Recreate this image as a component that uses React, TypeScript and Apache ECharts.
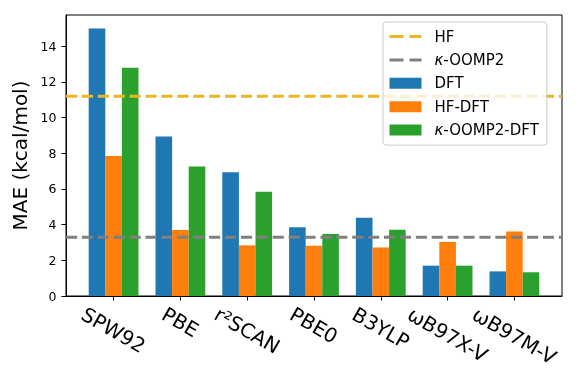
import React, { useEffect, useRef } from "react";
import * as echarts from "echarts";

const categories = ["SPW92", "PBE", "r²SCAN", "PBE0", "B3YLP", "ωB97X-V", "ωB97M-V"];
const dftValues = [15.0, 8.94, 6.93, 3.86, 4.38, 1.7, 1.38];
const hfDftValues = [7.84, 3.7, 2.84, 2.82, 2.72, 3.02, 3.62];
const oompDftValues = [12.8, 7.26, 5.84, 3.47, 3.71, 1.7, 1.33];
const hfReference = 11.2;
const oompReference = 3.29;
const yTickValues = [0, 2, 4, 6, 8, 10, 12, 14];
const yMax = 15.75;
const xMin = -0.7125;
const xMax = 6.7125;

const FONT = "DejaVu Sans";
const DASH_ICON = "path://M0,0 H14 V3 H0 Z M20,0 H32 V3 H20 Z";

function measure(text: string, size: number): number {
  const c = document.createElement("canvas");
  const ctx = c.getContext("2d");
  if (!ctx) return text.length * size * 0.6;
  ctx.font = `${size}px "${FONT}"`;
  return ctx.measureText(text).width;
}

export default function App() {
  const ref = useRef<HTMLDivElement>(null);
  useEffect(() => {
    if (!ref.current) return;
    const chart = echarts.init(ref.current, undefined, { renderer: "svg" });

    const labelFont = 20;
    const rich: Record<string, any> = {};
    categories.forEach((c, i) => {
      const w = measure(c, labelFont);
      const delta = w / 4;
      const d = 0.866 * delta;
      const s = 0.5 * delta;
      rich["l" + i] = {
        fontSize: labelFont,
        fontFamily: FONT,
        color: "#000",
        padding: [2 * d, 0, 0, 2 * s],
      };
    });

    const barSeries = (name: string, values: number[], color: string) => ({
      name,
      type: "bar",
      data: values.map((v, i) => [i, v]),
      barWidth: 16.6,
      barGap: "0%",
      itemStyle: { color },
      z: 2,
    });

    const lineSeries = (name: string, value: number, color: string) => ({
      name,
      type: "line",
      data: [
        [xMin, value],
        [xMax, value],
      ],
      symbol: "none",
      showSymbol: false,
      lineStyle: { color, width: 3, type: [11.1, 4.8] },
      itemStyle: { color },
      z: 3,
    });

    chart.setOption({
      animation: false,
      textStyle: { fontFamily: FONT },
      grid: {
        left: 66,
        right: 19,
        top: 15,
        bottom: 92,
        show: true,
        borderColor: "#000",
        borderWidth: 1,
        backgroundColor: "transparent",
      },
      xAxis: {
        type: "value",
        min: xMin,
        max: xMax,
        splitLine: { show: false },
        axisLine: { show: true, onZero: false, lineStyle: { color: "#000", width: 1 } },
        axisTick: {
          show: true,
          customValues: categories.map((_, i) => i),
          length: 4.5,
          lineStyle: { color: "#000", width: 1 },
        },
        axisLabel: {
          customValues: categories.map((_, i) => i),
          formatter: (v: number) => {
            const i = Math.round(v);
            return `{l${i}|${categories[i]}}`;
          },
          rotate: -30,
          align: "center",
          verticalAlign: "middle",
          margin: 16.5,
          hideOverlap: false,
          fontSize: labelFont,
          fontFamily: FONT,
          color: "#000",
          rich,
        },
      },
      yAxis: {
        type: "value",
        min: 0,
        max: yMax,
        name: "MAE (kcal/mol)",
        nameLocation: "middle",
        nameGap: 31,
        nameTextStyle: { fontSize: 20, fontFamily: FONT, color: "#000" },
        splitLine: { show: false },
        axisLine: { show: true, onZero: false, lineStyle: { color: "#000", width: 1 } },
        axisTick: {
          show: true,
          customValues: yTickValues,
          length: 4.5,
          lineStyle: { color: "#000", width: 1 },
        },
        axisLabel: {
          customValues: yTickValues,
          fontSize: 12.5,
          fontFamily: FONT,
          color: "#000",
          margin: 9.5,
        },
      },
      legend: {
        orient: "vertical",
        left: 383,
        top: 22,
        z: 6,
        padding: [6.5, 8, 7, 6.5],
        itemWidth: 32,
        itemHeight: 11,
        itemGap: 7.4,
        backgroundColor: "rgba(255,255,255,0.8)",
        borderColor: "#cccccc",
        borderWidth: 1,
        borderRadius: 3,
        data: [
          { name: "HF", icon: DASH_ICON },
          { name: "κ-OOMP2", icon: DASH_ICON },
          { name: "DFT", icon: "rect" },
          { name: "HF-DFT", icon: "rect" },
          { name: "κ-OOMP2-DFT", icon: "rect" },
        ],
        formatter: (name: string) => name.replace("κ", "{i|κ}"),
        textStyle: {
          fontSize: 15,
          fontFamily: FONT,
          color: "#000",
          lineHeight: 16,
          padding: [0, 0, 0, 8],
          rich: {
            i: { fontSize: 15, fontFamily: FONT, fontStyle: "italic", color: "#000" },
          },
        },
      },
      series: [
        barSeries("DFT", dftValues, "#1f77b4"),
        barSeries("HF-DFT", hfDftValues, "#ff7f0e"),
        barSeries("κ-OOMP2-DFT", oompDftValues, "#2ca02c"),
        lineSeries("HF", hfReference, "#e9b627"),
        lineSeries("κ-OOMP2", oompReference, "#808080"),
      ],
    });
    return () => chart.dispose();
  }, []);
  return (
    <div
      ref={ref}
      style={{ position: "fixed", left: 0, top: 0, width: 581, height: 388 }}
    />
  );
}
